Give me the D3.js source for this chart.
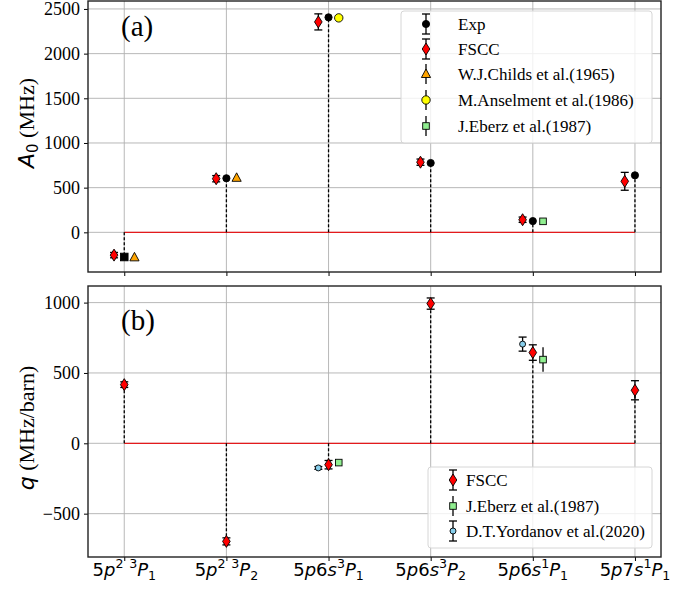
<!DOCTYPE html>
<html>
<head>
<meta charset="utf-8">
<script src="https://cdn.jsdelivr.net/npm/d3@7"></script>
<style>
  body { margin: 0; background: #fff; }
  svg { display: block; }
</style>
</head>
<body>
<svg id="chart"></svg>
<script>
// categories (x axis), written as mini math strings: ^ = superscript, _ = subscript
const catLabels = ["5p^2 ^3P_1", "5p^2 ^3P_2", "5p6s^3P_1", "5p6s^3P_2", "5p6s^1P_1", "5p7s^1P_1"];

// panel (a): A0 in MHz
const expA = [-276, 605, 2406, 776, 126, 638];
const expAErr = [8, 8, 8, 8, 8, 8];
const fsccA = [-255, 600, 2355, 785, 141, 571];
const fsccAErr = [30, 35, 90, 35, 30, 100];
const childsCat = [0, 1];
const childsA = [-280, 610];
const anselCat = [2];
const anselA = [2400];
const eberzACat = [4];
const eberzA = [123];

// panel (b): q in MHz/barn
const fsccQ = [417, -697, -152, 993, 645, 377];
const fsccQErr = [20, 25, 30, 40, 55, 68];
const eberzQCat = [2, 4];
const eberzQ = [-137, 595];
const eberzQErr = [0, 87];
const yordCat = [2, 4];
const yordQ = [-175, 705];
const yordQErr = [10, 50];

const yTicksA = [0, 500, 1000, 1500, 2000, 2500];
const yTicksQ = [-500, 0, 500, 1000];

const W = 695, H = 589;
const svg = d3.select("#chart").attr("width", W).attr("height", H);

const serif = "'Liberation Serif', 'Times New Roman', serif";
const sans = "'DejaVu Sans', sans-serif";

const x = d3.scaleLinear().domain([-0.355, 5.255]).range([88, 661]);
const off = 0.1;

const yA = d3.scaleLinear().domain([-444, 2589]).range([272, 1]);
const yQ = d3.scaleLinear().domain([-808, 1118]).range([557, 286]);

const colors = {
  fscc: "#ff0000", childs: "#ffa500", ansel: "#ffff00",
  eberz: "#90ee90", yord: "#87ceeb", exp: "#000"
};

function marker(g, shape, cx, cy, fill) {
  let s;
  if (shape === "circle") {
    s = g.append("circle").attr("cx", cx).attr("cy", cy).attr("r", 3.6);
  } else if (shape === "bigcircle") {
    s = g.append("circle").attr("cx", cx).attr("cy", cy).attr("r", 4.2);
  } else if (shape === "smallcircle") {
    s = g.append("circle").attr("cx", cx).attr("cy", cy).attr("r", 3);
  } else if (shape === "square") {
    s = g.append("rect").attr("x", cx - 3.3).attr("y", cy - 3.3).attr("width", 6.6).attr("height", 6.6);
  } else if (shape === "expsquare") {
    s = g.append("rect").attr("x", cx - 3.8).attr("y", cy - 3.8).attr("width", 7.6).attr("height", 7.6);
  } else if (shape === "diamond") {
    s = g.append("path").attr("d", `M${cx},${cy - 6}L${cx + 3.8},${cy}L${cx},${cy + 6}L${cx - 3.8},${cy}Z`);
  } else if (shape === "triangle") {
    s = g.append("path").attr("d", `M${cx},${cy - 5}L${cx + 4.6},${cy + 3.5}L${cx - 4.6},${cy + 3.5}Z`);
  }
  s.attr("fill", fill).attr("stroke", "#000").attr("stroke-width", 0.9);
}

function errbar(g, cx, y, v, e, cap = 4) {
  if (!e) return;
  const y1 = y(v - e), y2 = y(v + e);
  g.append("line").attr("x1", cx).attr("x2", cx).attr("y1", y1).attr("y2", y2)
    .attr("stroke", "#000").attr("stroke-width", 1.3);
  [y1, y2].forEach(yy => g.append("line").attr("x1", cx - cap).attr("x2", cx + cap)
    .attr("y1", yy).attr("y2", yy).attr("stroke", "#000").attr("stroke-width", 1.3));
}

function mathText(sel, str, size) {
  let shift = 0;
  for (let i = 0; i < str.length; i++) {
    let ch = str[i], mode = 0;
    if (ch === "^") { mode = 1; ch = str[++i]; }
    else if (ch === "_") { mode = -1; ch = str[++i]; }
    const target = mode === 1 ? -0.42 * size : mode === -1 ? 0.22 * size : 0;
    const t = sel.append("tspan").text(ch === " " ? "\u00a0" : ch)
      .attr("dy", target - shift)
      .attr("font-size", mode ? size * 0.7 : size)
      .attr("font-style", /[a-zA-Z]/.test(ch) ? "italic" : "normal");
    shift = target;
  }
}

function panel(y, top, bottom, yTicks) {
  const g = svg.append("g");
  // grid
  g.selectAll(".gx").data(catLabels).enter().append("line")
    .attr("x1", (d, i) => x(i)).attr("x2", (d, i) => x(i))
    .attr("y1", top).attr("y2", bottom)
    .attr("stroke", "#b0b0b0").attr("stroke-width", 0.9);
  g.selectAll(".gy").data(yTicks).enter().append("line")
    .attr("x1", 88).attr("x2", 661)
    .attr("y1", d => y(d)).attr("y2", d => y(d))
    .attr("stroke", "#b0b0b0").attr("stroke-width", 0.9);

  const ya = d3.axisLeft(y).tickValues(yTicks).tickSize(4).tickPadding(4)
    .tickFormat(d => d < 0 ? "\u2212" + Math.abs(d) : d);
  const ay = svg.append("g").attr("transform", "translate(88,0)").call(ya);
  ay.select(".domain").remove();
  ay.selectAll("text").attr("font-family", serif).attr("font-size", 18).attr("fill", "#000");
  ay.selectAll("line").attr("stroke", "#000").attr("stroke-width", 1);

  const xa = d3.axisBottom(x).tickValues(d3.range(catLabels.length)).tickSize(4).tickFormat("");
  const ax = svg.append("g").attr("transform", `translate(0,${bottom})`).call(xa);
  ax.select(".domain").remove();
  ax.selectAll("line").attr("stroke", "#000").attr("stroke-width", 1);
  return g;
}

function frame(top, bottom) {
  svg.append("rect").attr("x", 88).attr("y", top).attr("width", 661 - 88).attr("height", bottom - top)
    .attr("fill", "none").attr("stroke", "#222").attr("stroke-width", 1.4);
}

// ---------- panel (a) ----------
const ga = panel(yA, 1, 272, yTicksA);
ga.append("line").attr("x1", x(0)).attr("x2", x(catLabels.length - 1))
  .attr("y1", yA(0)).attr("y2", yA(0)).attr("stroke", "#e41a1c").attr("stroke-width", 1.3);
expA.forEach((v, i) => {
  ga.append("line").attr("x1", x(i)).attr("x2", x(i)).attr("y1", yA(0)).attr("y2", yA(v))
    .attr("stroke", "#000").attr("stroke-width", 1.3).attr("stroke-dasharray", "3,2");
});
fsccA.forEach((v, i) => {
  errbar(ga, x(i - off), yA, v, fsccAErr[i]);
  marker(ga, "diamond", x(i - off), yA(v), colors.fscc);
});
expA.forEach((v, i) => {
  errbar(ga, x(i), yA, v, 0);
  marker(ga, i === 0 ? "expsquare" : "circle", x(i), yA(v), colors.exp);
});
childsA.forEach((v, k) => marker(ga, "triangle", x(childsCat[k] + off), yA(v), colors.childs));
anselA.forEach((v, k) => marker(ga, "bigcircle", x(anselCat[k] + off), yA(v), colors.ansel));
eberzA.forEach((v, k) => marker(ga, "square", x(eberzACat[k] + off), yA(v), colors.eberz));
frame(1, 272);

// ---------- panel (b) ----------
const gb = panel(yQ, 286, 557, yTicksQ);
gb.append("line").attr("x1", x(0)).attr("x2", x(catLabels.length - 1))
  .attr("y1", yQ(0)).attr("y2", yQ(0)).attr("stroke", "#e41a1c").attr("stroke-width", 1.3);
fsccQ.forEach((v, i) => {
  gb.append("line").attr("x1", x(i)).attr("x2", x(i)).attr("y1", yQ(0)).attr("y2", yQ(v))
    .attr("stroke", "#000").attr("stroke-width", 1.3).attr("stroke-dasharray", "3,2");
});
yordQ.forEach((v, k) => {
  errbar(gb, x(yordCat[k] - off), yQ, v, yordQErr[k]);
  marker(gb, "smallcircle", x(yordCat[k] - off), yQ(v), colors.yord);
});
fsccQ.forEach((v, i) => {
  errbar(gb, x(i), yQ, v, fsccQErr[i]);
  marker(gb, "diamond", x(i), yQ(v), colors.fscc);
});
eberzQ.forEach((v, k) => {
  const cx = x(eberzQCat[k] + off);
  if (eberzQErr[k]) gb.append("line").attr("x1", cx).attr("x2", cx)
    .attr("y1", yQ(v - eberzQErr[k])).attr("y2", yQ(v + eberzQErr[k]))
    .attr("stroke", "#000").attr("stroke-width", 1.3);
  marker(gb, "square", cx, yQ(v), colors.eberz);
});
frame(286, 557);

// x tick labels
catLabels.forEach((s, i) => {
  const t = svg.append("text").attr("x", x(i)).attr("y", 576).attr("text-anchor", "middle")
    .attr("font-family", sans).attr("fill", "#000");
  mathText(t, s, 18);
});

// panel tags
svg.append("text").attr("x", 121).attr("y", 36).attr("font-family", serif).attr("font-size", 29).text("(a)");
svg.append("text").attr("x", 121).attr("y", 330).attr("font-family", serif).attr("font-size", 29).text("(b)");

// y labels
const la = svg.append("text").attr("transform", "translate(34,123) rotate(-90)")
  .attr("text-anchor", "middle").attr("font-size", 22);
la.append("tspan").attr("font-family", sans).attr("font-style", "italic").text("A");
la.append("tspan").attr("font-family", sans).attr("font-size", 15).attr("dy", 4).text("0");
la.append("tspan").attr("font-family", serif).attr("dy", -4).text(" (MHz)");

const lb = svg.append("text").attr("transform", "translate(34,428) rotate(-90)")
  .attr("text-anchor", "middle").attr("font-size", 22);
lb.append("tspan").attr("font-family", sans).attr("font-style", "italic").text("q");
lb.append("tspan").attr("font-family", serif).text(" (MHz/barn)");

// legends
function legend(x0, y0, w, h, items, mx, tx) {
  const g = svg.append("g");
  g.append("rect").attr("x", x0).attr("y", y0).attr("width", w).attr("height", h).attr("rx", 3)
    .attr("fill", "#fff").attr("fill-opacity", 0.8).attr("stroke", "#d6d6d6").attr("stroke-width", 1);
  items.forEach(it => {
    const yy = it.y;
    g.append("line").attr("x1", mx).attr("x2", mx).attr("y1", yy - 10).attr("y2", yy + 10)
      .attr("stroke", "#000").attr("stroke-width", 1.3);
    if (it.cap) [yy - 10, yy + 10].forEach(c => g.append("line").attr("x1", mx - 4).attr("x2", mx + 4)
      .attr("y1", c).attr("y2", c).attr("stroke", "#000").attr("stroke-width", 1.3));
    marker(g, it.shape, mx, yy, it.fill);
    g.append("text").attr("x", tx).attr("y", yy + 6).attr("font-family", serif).attr("font-size", 17)
      .attr("fill", "#000").text(it.label);
  });
}

legend(401, 11, 251, 132, [
  { label: "Exp", shape: "circle", fill: colors.exp, cap: true, y: 24 },
  { label: "FSCC", shape: "diamond", fill: colors.fscc, cap: true, y: 49 },
  { label: "W.J.Childs et al.(1965)", shape: "triangle", fill: colors.childs, cap: false, y: 74 },
  { label: "M.Anselment et al.(1986)", shape: "bigcircle", fill: colors.ansel, cap: false, y: 100 },
  { label: "J.Eberz et al.(1987)", shape: "square", fill: colors.eberz, cap: false, y: 126 }
], 426, 458);

legend(428, 467, 224, 81, [
  { label: "FSCC", shape: "diamond", fill: colors.fscc, cap: true, y: 480 },
  { label: "J.Eberz et al.(1987)", shape: "square", fill: colors.eberz, cap: false, y: 506 },
  { label: "D.T.Yordanov et al.(2020)", shape: "smallcircle", fill: colors.yord, cap: true, y: 531 }
], 453, 466);
</script>
</body>
</html>
